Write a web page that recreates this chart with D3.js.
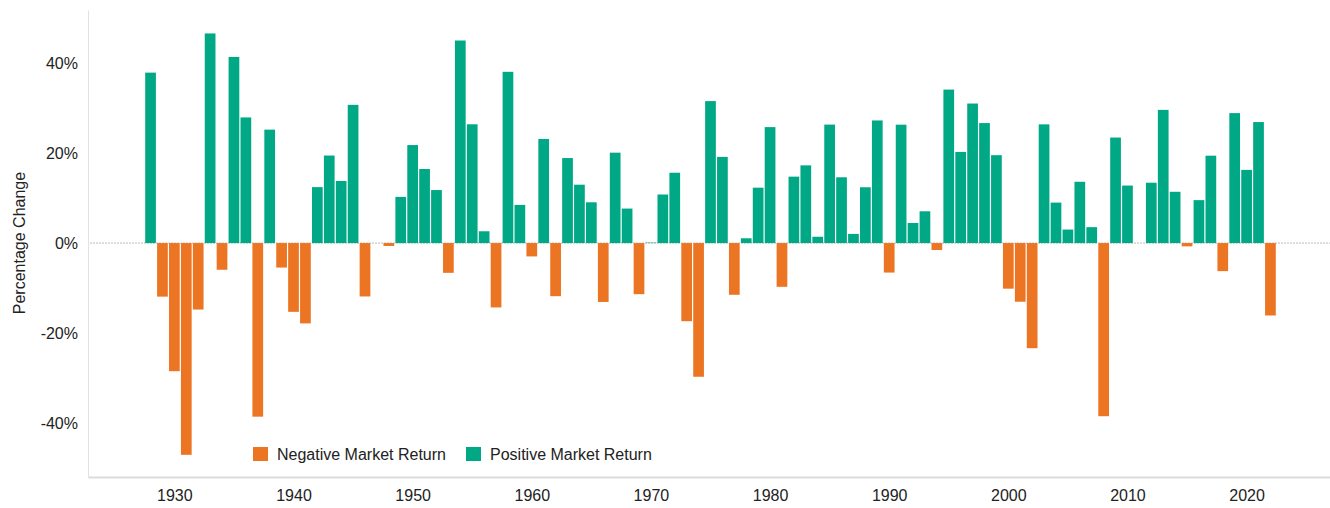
<!DOCTYPE html>
<html>
<head>
<meta charset="utf-8">
<script src="https://cdn.jsdelivr.net/npm/d3@7"></script>
<style>
  body { margin: 0; background: #fff; }
  svg { display: block; font-family: "Liberation Sans", Arial, sans-serif; }
  .tick-label { font-size: 16px; fill: #222; }
  .axis-title { font-size: 16px; fill: #222; }
  .legend-label { font-size: 16px; fill: #222; }
</style>
</head>
<body>
<svg id="chart"></svg>
<script>
// S&P 500 annual price return, 1928-2022
const years = d3.range(1928, 2023);
const returns = [
  37.88, -11.91, -28.48, -47.07, -14.78, 46.59, -5.94, 41.37, 27.92, -38.59,
  25.21, -5.45, -15.29, -17.86, 12.43, 19.45, 13.80, 30.72, -11.87, 0.00,
  -0.65, 10.26, 21.78, 16.46, 11.78, -6.62, 45.02, 26.40, 2.62, -14.31,
  38.06, 8.48, -2.97, 23.13, -11.81, 18.89, 12.97, 9.06, -13.09, 20.09,
  7.66, -11.36, 0.10, 10.79, 15.63, -17.37, -29.72, 31.55, 19.15, -11.50,
  1.06, 12.31, 25.77, -9.73, 14.76, 17.27, 1.40, 26.33, 14.62, 2.03,
  12.40, 27.25, -6.56, 26.31, 4.46, 7.06, -1.54, 34.11, 20.26, 31.01,
  26.67, 19.53, -10.14, -13.04, -23.37, 26.38, 8.99, 3.00, 13.62, 3.53,
  -38.49, 23.45, 12.78, 0.00, 13.41, 29.60, 11.39, -0.73, 9.54, 19.42,
  -6.24, 28.88, 16.26, 26.89, -16.1
];
const xTicks = [1930, 1940, 1950, 1960, 1970, 1980, 1990, 2000, 2010, 2020];
const yTicks = [-40, -20, 0, 20, 40];
const seriesNames = ['Negative Market Return', 'Positive Market Return'];
const seriesColors = ['#ec7524', '#00a886'];

class ReturnsChart {

  constructor(_config, _data) {
    this.config = {
      parentElement: _config.parentElement,
      containerWidth: _config.containerWidth || 1330,
      containerHeight: _config.containerHeight || 508,
      margin: _config.margin || {top: 10, right: 0, bottom: 31, left: 88}
    }
    this.data = _data;
    this.initVis();
  }

  initVis() {
    let vis = this;

    vis.width = vis.config.containerWidth - vis.config.margin.left - vis.config.margin.right;
    vis.height = vis.config.containerHeight - vis.config.margin.top - vis.config.margin.bottom;

    vis.xScale = d3.scaleLinear()
        .domain([1922.75, 2027])
        .range([0, vis.width]);

    vis.yScale = d3.scaleLinear()
        .domain([-52, 51.8])
        .range([vis.height, 0]);

    vis.color = d3.scaleOrdinal()
        .domain(seriesNames)
        .range(seriesColors);

    vis.xAxis = d3.axisBottom(vis.xScale)
        .tickValues(xTicks)
        .tickFormat(d3.format('d'))
        .tickSize(0)
        .tickPadding(13);

    vis.yAxis = d3.axisLeft(vis.yScale)
        .tickValues(yTicks)
        .tickFormat(d => d + '%')
        .tickSize(0)
        .tickPadding(10);

    vis.svg = d3.select(vis.config.parentElement)
        .attr('width', vis.config.containerWidth)
        .attr('height', vis.config.containerHeight);

    vis.chart = vis.svg.append('g')
        .attr('transform', `translate(${vis.config.margin.left},${vis.config.margin.top})`);

    vis.renderVis();
  }

  renderVis() {
    let vis = this;

    // zero line, dotted
    vis.chart.append('line')
        .attr('x1', 2)
        .attr('x2', vis.width)
        .attr('y1', vis.yScale(0))
        .attr('y2', vis.yScale(0))
        .attr('stroke', '#bbb')
        .attr('stroke-width', 1)
        .attr('stroke-dasharray', '2,1');

    const bw = vis.xScale(1) - vis.xScale(0) - 1.2;

    vis.chart.append('g')
      .selectAll('rect')
      .data(vis.data)
      .enter().append('rect')
        .attr('x', d => vis.xScale(d.year) - bw / 2)
        .attr('y', d => vis.yScale(Math.max(0, d.value)))
        .attr('width', bw)
        .attr('height', d => Math.abs(vis.yScale(d.value) - vis.yScale(0)))
        .attr('fill', d => d.value < 0 ? vis.color(seriesNames[0]) : vis.color(seriesNames[1]));

    // axes
    vis.xAxisG = vis.chart.append('g')
        .attr('transform', `translate(0,${vis.height})`)
        .call(vis.xAxis);
    vis.xAxisG.select('.domain').attr('stroke', '#dcdcdc').attr('stroke-width', 2);
    vis.xAxisG.selectAll('text').attr('class', 'tick-label').attr('fill', null);

    vis.yAxisG = vis.chart.append('g')
        .call(vis.yAxis);
    vis.yAxisG.select('.domain').attr('stroke', '#e2e2e2').attr('stroke-width', 1);
    vis.yAxisG.selectAll('text').attr('class', 'tick-label').attr('fill', null);

    vis.chart.append('text')
        .attr('class', 'axis-title')
        .attr('transform', 'rotate(-90)')
        .attr('x', -vis.yScale(0))
        .attr('y', -vis.config.margin.left + 25)
        .style('text-anchor', 'middle')
        .text('Percentage Change');

    // legend
    const legend = vis.chart.append('g')
        .attr('transform', `translate(${253 - vis.config.margin.left},${447 - vis.config.margin.top})`);
    const offsets = [0, 213];
    seriesNames.forEach((name, i) => {
      const item = legend.append('g').attr('transform', `translate(${offsets[i]},0)`);
      item.append('rect')
          .attr('width', 15)
          .attr('height', 14)
          .attr('fill', vis.color(name));
      item.append('text')
          .attr('class', 'legend-label')
          .attr('x', 24)
          .attr('y', 13)
          .text(name);
    });
  }
}

const data = years.map((y, i) => ({year: y, value: returns[i]}));
new ReturnsChart({parentElement: '#chart'}, data);
</script>
</body>
</html>
